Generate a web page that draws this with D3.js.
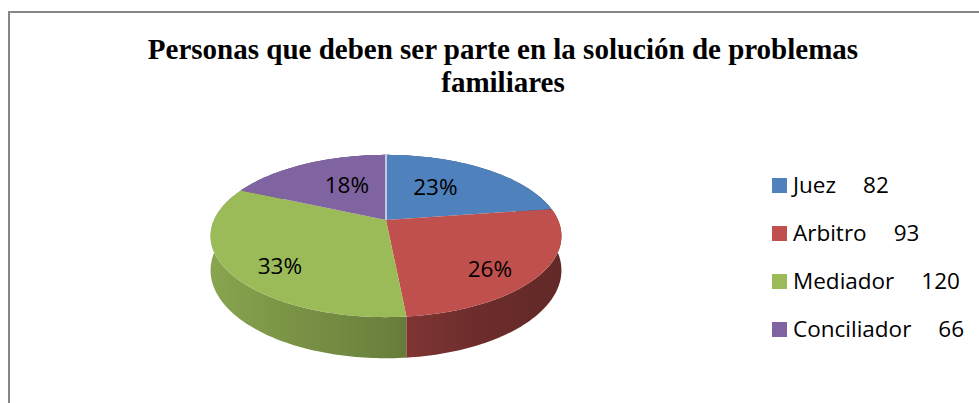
<!DOCTYPE html>
<html>
<head>
<meta charset="utf-8">
<script src="https://cdn.jsdelivr.net/npm/d3@7"></script>
<style>
  html, body { margin: 0; padding: 0; background: #fff; overflow: hidden; }
</style>
</head>
<body>
<div id="visDiv"></div>
<script>
(function () {

	// DATA
	var categories = ["Juez", "Arbitro", "Mediador", "Conciliador"],
		values = [82, 93, 120, 66],
		colors = ["#4F81BD", "#C0504D", "#9BBB59", "#8064A2"],
		titleLines = ["Personas que deben ser parte en la solución de problemas", "familiares"];

	// DEFS
	var w = 979, h = 403,
		cx = 386, cy = 220,		// projected pie centre
		rx = 172, ry = 78,		// radii of the top face
		persp = 0.197,			// front of the pie is larger than the back
		depth = 33,
		labelFx = 0.62, labelFy = 0.81, labelPersp = 0.386;

	var svg = d3.select('#visDiv')
		.append('svg')
			.attr('width', w)
			.attr('height', h);

	var defs = svg.append('defs');

	// chart border (right and bottom edges fall outside the picture)
	svg.append('rect')
		.attr('x', 9).attr('y', 12)
		.attr('width', 1000).attr('height', 500)
		.attr('fill', '#fff')
		.attr('stroke', '#878787')
		.attr('stroke-width', 2);

	// title
	svg.append('text')
		.attr('x', 503)
		.attr('y', 59)
		.attr('text-anchor', 'middle')
		.attr('font-family', '"Liberation Serif", "Times New Roman", serif')
		.attr('font-weight', 'bold')
		.attr('font-size', '29px')
		.selectAll('tspan')
		.data(titleLines)
		.enter().append('tspan')
			.attr('x', 503)
			.attr('dy', function (d, i) { return i === 0 ? 0 : 33; })
			.text(function (d) { return d; });

	var pie = d3.pie().sort(null).value(function (d) { return d; });
	var arcs = pie(values);
	var total = d3.sum(values);

	// project an angle (0 = 12 o'clock, clockwise) at radius fraction f, dropped by dz
	function proj(a, f, dz) {
		var u = Math.sin(a) * f, v = -Math.cos(a) * f;
		var s = 1 / (1 - persp * v);
		return [cx + rx * u * s, cy + ry * v * s + dz * s];
	}

	function samples(a0, a1) {
		var n = Math.max(2, Math.ceil((a1 - a0) / 0.02));
		return d3.range(n + 1).map(function (i) { return a0 + (a1 - a0) * i / n; });
	}

	var line = d3.line();

	// side gradients: lit from the left, darker to the right
	arcs.forEach(function (d, i) {
		var base = d3.rgb(colors[i]);
		var g = defs.append('linearGradient')
			.attr('id', 'side' + i)
			.attr('gradientUnits', 'userSpaceOnUse')
			.attr('x1', cx - rx * 1.03).attr('x2', cx + rx * 1.03)
			.attr('y1', 0).attr('y2', 0);
		[[0, 0.35], [0.25, 0.7], [0.5, 1.05], [0.75, 1.6], [1, 1.9]].forEach(function (st) {
			g.append('stop')
				.attr('offset', st[0])
				.attr('stop-color', base.darker(st[1]).formatHex());
		});
	});

	// walls, back to front
	var walls = arcs.map(function (d, i) { return {d: d, i: i}; })
		.sort(function (a, b) {
			return -Math.cos((a.d.startAngle + a.d.endAngle) / 2) - -Math.cos((b.d.startAngle + b.d.endAngle) / 2);
		});

	svg.append('g').selectAll('path')
		.data(walls)
		.enter().append('path')
			.attr('fill', function (o) { return 'url(#side' + o.i + ')'; })
			.attr('d', function (o) {
				var ang = samples(o.d.startAngle, o.d.endAngle);
				var top = ang.map(function (a) { return proj(a, 1, 0); });
				var bot = ang.slice().reverse().map(function (a) { return proj(a, 1, depth); });
				return line(top.concat(bot)) + 'Z';
			});

	// top faces
	svg.append('g').selectAll('path')
		.data(arcs)
		.enter().append('path')
			.attr('fill', function (d, i) { return colors[i]; })
			.attr('d', function (d) {
				var pts = [[cx, cy]].concat(samples(d.startAngle, d.endAngle).map(function (a) { return proj(a, 1, 0); }));
				return line(pts) + 'Z';
			});

	// light edge at the start of the first slice
	svg.append('line')
		.attr('x1', cx).attr('y1', cy)
		.attr('x2', proj(arcs[0].startAngle, 1, 0)[0])
		.attr('y2', proj(arcs[0].startAngle, 1, 0)[1])
		.attr('stroke', '#dfe6f3')
		.attr('stroke-width', 1.5);

	// percentage labels
	svg.append('g').selectAll('text')
		.data(arcs)
		.enter().append('text')
			.attr('text-anchor', 'middle')
			.attr('font-family', '"Open Sans", sans-serif')
			.attr('font-size', '22.5px')
			.attr('fill', '#000')
			.attr('x', function (d) {
				var a = (d.startAngle + d.endAngle) / 2, u = Math.sin(a), v = -Math.cos(a);
				return cx + rx * labelFx * u * (1 + labelPersp * v);
			})
			.attr('y', function (d) {
				var a = (d.startAngle + d.endAngle) / 2, v = -Math.cos(a);
				return cy + 1 + ry * labelFy * v * (1 + labelPersp * v) + 8;
			})
			.text(function (d) { return Math.round(d.value / total * 100) + '%'; });

	// legend
	var legY = d3.scaleLinear().domain([0, 1]).range([178, 226]);
	var leg = svg.append('g').selectAll('g')
		.data(categories)
		.enter().append('g')
			.attr('transform', function (d, i) { return 'translate(772,' + legY(i) + ')'; });

	leg.append('rect')
		.attr('width', 15).attr('height', 15)
		.attr('fill', function (d, i) { return colors[i]; });

	leg.append('text')
		.attr('class', 'lab')
		.attr('x', 21)
		.attr('y', 15)
		.attr('font-family', '"Open Sans", sans-serif')
		.attr('font-size', '22.5px')
		.text(function (d) { return d; });

	leg.each(function (d, i) {
		var g = d3.select(this);
		var lw = g.select('text.lab').node().getComputedTextLength();
		g.append('text')
			.attr('x', 21 + lw + 27)
			.attr('y', 15)
			.attr('font-family', '"Open Sans", sans-serif')
			.attr('font-size', '22.5px')
			.text(values[i]);
	});

}());
</script>
</body>
</html>
